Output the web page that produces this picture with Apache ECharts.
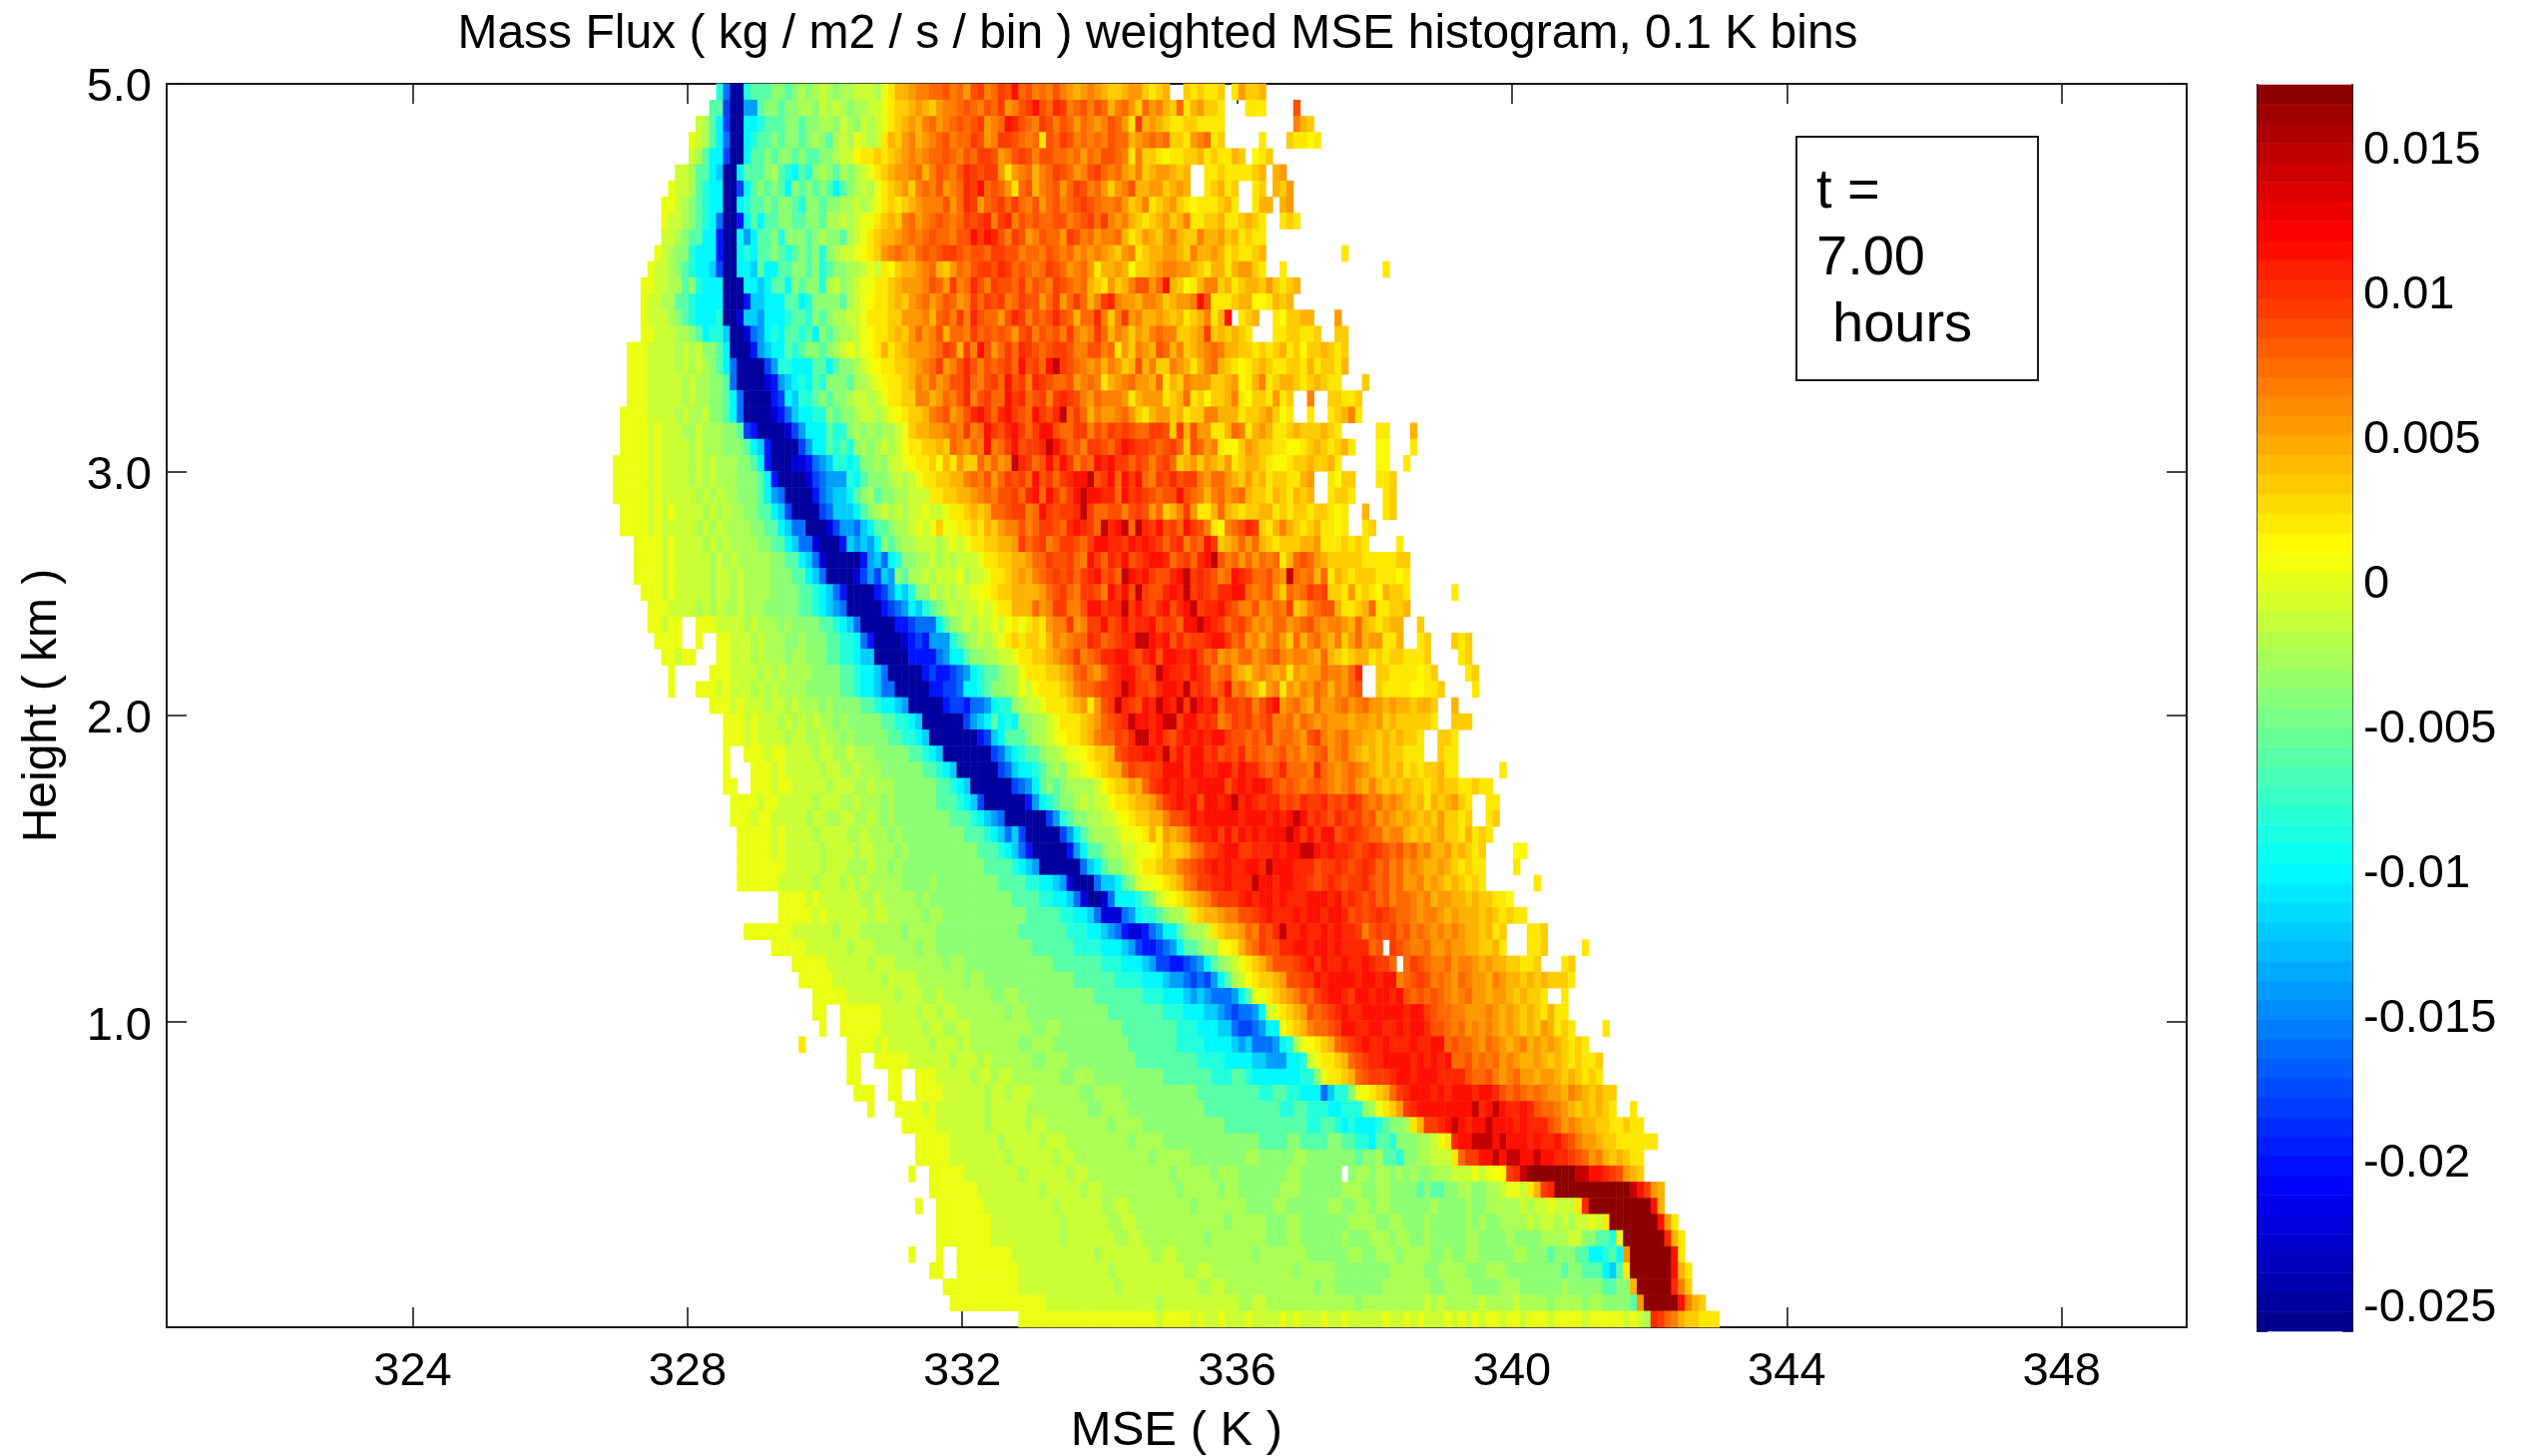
<!DOCTYPE html>
<html><head><meta charset="utf-8">
<style>html,body{margin:0;padding:0;background:#fff}#c{width:2531px;height:1459px}</style>
<script src="https://cdn.jsdelivr.net/npm/echarts@6/dist/echarts.min.js"></script>
</head><body><div id="c"></div>
<script>
const xTicks = [324,328,332,336,340,344,348];
const heightTickRows = [18.9,37.9,53,77];
const heightTickLabels = ["1.0","2.0","3.0","5.0"];
const colorTicks = [0.015,0.01,0.005,0,-0.005,-0.01,-0.015,-0.02,-0.025];
const binCount = 294;
const rowCount = 77;
const xMin = 320.42, xMax = 349.82;
const cMin = -0.02597, cMax = 0.0171;
// one letter = estimated flux of one 0.1 K bin
const levelValues = {a:-0.025,b:-0.0225,c:-0.02,d:-0.018,e:-0.016,f:-0.014,g:-0.012,h:-0.0102,i:-0.0084,j:-0.0062,k:-0.0039,l:-0.0025,m:-0.0012,n:0.0002,o:0.0006,p:0.0011,q:0.002,r:0.0032,s:0.0043,t:0.0054,u:0.0065,v:0.0075,w:0.0085,x:0.0094,y:0.0103,z:0.0113,A:0.0145,B:0.0168};
// per row, top to bottom: start bin, letters, start bin, letters ...
const rowSegments = [
[80,"ie",82,"aaijjjkkjklklmlkllmmml",104,"nqsstuuvvwuvtwxuvxwzvwuvuwutstutsrsstss",138,"rsttrqrs",148,"rqrqqr",155,"qtrrs"],
[79,"jj",81,"daaffjkkjkkllkmlmlkllmm",104,"nqrrstsrtuuvwvuwvxtuwxzwvyxuvwuwvsuv",140,"trvtusrvqstrrq",157,"qqq",164,"w"],
[77,"mljh",81,"daahhijjjkkjkkllkmlkml",103,"mnqrstsuvtuvwvwxtuvzywvuxwuwvtvut",136,"uwvtqxstsrqqrrqqqq",164,"usr"],
[76,"nmlj",80,"heaahijjkjkkjklkjlmlnmlm",104,"qsrtustuvwuvvxwtuxxwvuvqwvxwuvuv",136,"uwvvstuvuvrrqtuvqr",159,"q",163,"rqqpq"],
[76,"mljh",80,"hdaahjjkjkkjkjjkklmmpqq",103,"rqrstutuvvwvuwvxxwtuwxwuwwvvuvtvuw",137,"wvuqurrqpqqrrsqrqqsr",158,"pqr"],
[74,"mmljjh",80,"gaahjjjkljihjiklkjlklm",102,"nqrsttuvsuwvuwyxwxxtqtuvsuvxwvtuwxv",137,"uvtsursttsrs",151,"qqrqqqqrs",161,"st"],
[73,"nmmljihh",81,"aadhjkjkjhkjkjkjhjklml",103,"nqrstruvuwtuvyxzvwvtqvwsuvwtvxwuvt",137,"rtuwssttrsts",151,"qrsqr",158,"qr",161,"srt"],
[72,"nnmlkjihh",81,"aahijjkjkkjikkjkkllml",102,"mnqrqrstuuuwtvyxtvwxvxvuwtvwuvwxwvus",137,"uvtrsuqrstrqpqqqrsq",158,"qss",162,"st"],
[72,"nmmlkjih",80,"eaachjhjjkkjjkkjllmlmnn",103,"qrsruvtuvwvuvxwxyuxyuwvwvvwwuvwxvx",137,"utusrqrstrsuqqrrsqqrsrq",162,"qrq"],
[72,"mmlkjjhh",80,"caahfhjjkikkkjklkkjlmn",102,"qrsstuvuvwvvuwwzxzywuxwtuwvvtxwuvtuv",137,"uvsqrtsrtusrrusstrsqrqq"],
[71,"nmlkkihhh",80,"caahihjjkjijkjkiklmmnp",102,"qrtuvutvwvwxxwvwwvxxwwuvvuwvuvtuv",134,"tutsrtuqrssttsrusstsqrqqrs",171,"q"],
[70,"nmmlkjihhg",80,"daahhgjhhjjkkjkijkkllmn",103,"mqprsstuvsrtvuwxxwyxvwvuvxwvtuvu",134,"tqsstsprrstuuttsrqssqsttrq",162,"q",177,"q"],
[69,"nnmmlljkih",79,"hhaaahhghjjhkjkkilmkl",100,"mnnq",104,"qrstttuwvtxuvywuxwwvxuwvuxwv",132,"uvsrqtrsuwwtvzsrpqsuursqrssrtrqrs"],
[69,"nmmlljjih",78,"hhhaaacgghhhjjhikkkkj",99,"lmnpqq",104,"qrsrtuvtuwvtuxvxwxuvxwwtvxtv",132,"xvsuxyuttsuutrsttuzwqqqrssppqsrs"],
[69,"nmmmlkjih",78,"hhiaabggfhhhijjikjkl",98,"lmmnq",103,"qqrrtttusvwuxuywvvtwyxuwvwv",129,"ywvsvvyuruxtusstsrsqrsuqsz",156,"qrs",161,"qprrss",170,"t"],
[69,"nnmmmllkj",78,"hiig",82,"aabefhihjjijhkjkl",99,"lmnpq",104,"qrsrtvtuwsvvuxvwvwvtwxuwvwu",131,"xutuxvsutrtsuvuurrstxrsrsrq",161,"qqrrqqr",170,"rr"],
[67,"nnnmmmmlmlm",78,"kkjh",82,"aaacfghhjijkkjkl",98,"mnmnp",103,"qsqrstttuvxwsxuzwtvxvyxwvwxw",129,"xxwuuwwuvqtrutswvsurstuvussrrqrqrsqrprrsrqr"],
[67,"nnnmmmmlmlml",79,"kjhe",83,"aaaadfiihhhjjhjkkl",101,"mnpq",105,"qrrstuvxtuwywuwvwxvzwxvzAxwv",133,"utusutrswsurrutsqsuvsrqpqrsrqqrrqsqrrqs"],
[67,"nnnmmmmmlmll",79,"kkje",83,"aaaabcfghihjikkkjl",101,"lmnp",105,"qqrsutvtuwwyvuwxvzwxuyxwv",130,"vwtuvuqstuvttsvqsrutttrrstpqsuqrssrqrsrqq",174,"r"],
[67,"nnnmmmmmlmllk",80,"kjhe",84,"aaaacdhgiijkjkkl",100,"mmlmnq",106,"qrruustvuwyuwxvvzxyvwxuxyx",131,"xwutvuuutqstttqrsvqrprrsuqprrqtqr",166,"u",169,"rrqqr"],
[66,"nnnnmmmmlmllmk",80,"kjhe",84,"aaaabceghhiikjkkl",101,"mmlmnp",107,"qrrsuvwtuwyzxvyzxwvzxwyAvx",132,"xvsuttuvtrqsttrsqrruusssqrrstrpq",166,"q",169,"qrsuq"],
[66,"nnnnmnmmmllmlllkk",83,"jdc",86,"aaaabdfhhhjiiklkl",103,"kllmnq",108,"rssttuvuxuvzxwyzxvxzzwv",131,"vxxuwvxwxwvvxxwrxswttqqsvuqstsqqrsrrrsrq",176,"qq",181,"s"],
[66,"nnnnmnmmmmlmlllkkk",84,"jhg",87,"caaaadfhhjijikl",102,"klmlmoq",109,"qrrsrvutvuzuvxzwxxyA",129,"zxvwuxxwvxzyxxwvwxvrwvtuqpprtsrrqqppqrsrqrsq",176,"pp",181,"q"],
[65,"nnnnnmnmmmmlmlmlllkkj",86,"hc",88,"aaabbcefgiihikkl",104,"kmmnpq",110,"qrpsqtrrvtvtuAyxvwzwz",131,"xuwvzyzxxvxwuwxvrstrtsrtqrssrqppqrrsrrsq",176,"pp",180,"q"],
[65,"nnnnnmnmmmmlmlmlllkkkjhc",89,"aaaabdefffihjkl",103,"kklmlmn",109,"nqqrrssuvuwtvxwxvzwxvxyzzAwxzvzwxuw",140,"xzvuxwywxxutvvtsrtrsqrrqqst",169,"qprr",176,"qqr"],
[65,"nnnnnmnmmmmmlmlmllkkkjhfe",90,"aaaacefgghjkl",103,"jkkllmmmn",111,"qqrrsstuvuwwxvyzvzxvxzAzzyyvzx",139,"zxyxwvwwzwvusuvtuvsrrqsrqsrs",169,"qrrq",177,"qr"],
[66,"nnnnmnmnmmmmlmlmllkkjjhgd",91,"aaaadeggghjklm",105,"lmlmmnmmn",114,"qqrsrsvvwxxuvzxwxxyAxvvww",139,"uwxwtvrsuxtqqsvsrqrrssqrqrrqrrqpq",174,"s",177,"qr"],
[66,"nnnnmnmmmmmlmlmllllkkjjhge",92,"eaaabdffeghjjkl",107,"lmnmnrn",114,"nqqrqsrtuuwuvxxw",130,"vyzyxvAyzAvAyxzwxv",148,"zxwuqpuvwyxrqsusrqrsqqpq",174,"qr"],
[68,"nnnnmnmmmmlmlmllllkkjjhgee",94,"baaacgfgfhkjkl",108,"lmmmlmnmn",117,"qqrrsstxvwxuvxxwvxzzyyxzyzyxv",146,"xyuwvzxrstvtvsrqrrrsstqqqrqrq",179,"q"],
[68,"nnnnmnmmmmmlmlmlllllkkjjhge",95,"baaaaacfgehikk",109,"llmlmlmmmn",119,"qqrrsstvvxwwxvuzxvyxzwxyzz",145,"yvwxvyzAwuvtvtvuvqsvwvtsrrrrrqqqqqrr"],
[68,"nnnnmnmmmmmlmmlmllllkkkjjhge",96,"aaaabdfdgfkjll",110,"mlmmmnlmmn",120,"qqrstsuvwxwxvxyzwxvAzyzxw",145,"wyzAxyxwuvzyxvvwutAvuvsvqsrqrrrqqqpq"],
[69,"nnnmnmmmmmlmmlmllllkkkkjjihge",98,"caaaacdfhgikk",111,"mlmlmm",117,"nnpq",120,"qrrsssstvwxvuxxwuzxzwAxww",145,"yzyAxyxwyyzzvuvwtrvuvxwxrrqtqrqpsrrq",187,"q"],
[70,"nnnmmmmlmlmllmlllkkkkkjjihgfe",99,"aaaaacdefhgijk",113,"lmlmmnmn",121,"qqsssvtuxxuuwzzxyyAxzxwy",145,"zwyzAxyyzxwuuwtuvuxrsuvwwsqqrsvqqrrs"],
[70,"nnmnn",77,"nnnmmmmlmlllklkkkkjjihge",101,"aaaaaccdeeehjk",115,"lmlmmnmo",123,"qnqrqtuuxtuxxzwxzxyyzwxxv",148,"zzAzyxvwxvtutvvtuvwutuutsvsrqrss",182,"r"],
[71,"nnnn",77,"n",80,"nnmmmlmlllkklkkkjjiihe",102,"caaaabcdcfffijk",117,"lmlmnqr",124,"qrrqsutuvvyxvwxyyAAzyzw",147,"ywxxyzzxvwtusuvtrvsuvtsurtvsttqqs",182,"qr",187,"rqr"],
[72,"nnmnn",80,"nnmmmlmlllkllkkkjjiihg",102,"gaaaaaccccefhhjk",118,"kllmmnq",125,"qrrstuvxuvwyyzzxwyzwzzyyz",150,"xvwtutvvtuvwutuutsvsrqrssqrqrrqqqr",188,"qr"],
[73,"n",79,"nnnmmmmlmlmllllkkkkjjihhge",105,"aaaaacdccdefhijj",121,"kllnqq",127,"qrrstvwutvxyzzxwxAzyyxzyx",152,"uvwtsrtutstqtsttvuutvy",176,"rrqqqqpqr",189,"qr"],
[73,"n",77,"nnnmnmmmlmlmllllkkkkkjjihhge",105,"eaaaaaccddehhijk",121,"kllnmpq",128,"qqrsuvvwxxyAzxxwyzzyAxyx",152,"vwzuvtsqtuqtsutvusutvw",176,"rqqqqppqqr",190,"q"],
[79,"nnnmnmmmlmmlmlllklkkkkjjihhgf",108,"aaaaacddceefhiik",124,"lmmnq",129,"qqrstqtwxAyxwzyAzyAxAzyzvx",155,"xwxuwyztuvtsvttuvtuvttstssrssr",187,"s"],
[81,"nnnmnmmmlmlmlmllklkkkkkjjiihg",110,"aaaaaadfghjhihkk",126,"llmnq",131,"qqrstvwxyAzzyzAAxzzxyxuv",155,"xwxvwxuuvtvututttsttstrsrrrrrq",187,"rrr"],
[81,"nnnmnmmmmlmmllmllklkkkkkjjiihg",111,"aaaaaaacdghjjjkl",127,"lmnp",131,"qqrsuvvxwyAAyzxwyzyzyzzxw",156,"wvwvxuvvutwxutuvttssrsrsrrq",185,"rrq"],
[81,"n",84,"nnnmnnmmmmlmmllmlllkkkkkjjihg",113,"aaaaaaadeghijjkl",129,"lmnn",133,"pqrrswxyyzzyAxzxzzxywxw",156,"yvwvuvwuvtuvwtuvtsrsrsrrqqq",185,"rqq"],
[81,"n",85,"nnnmnmmmmmlmmllmlllkkkkkkjjihg",115,"aaaaaadeghhijk",129,"lkmmn",134,"pqrssvxwwxxzzzxzzyyzzxzyy",159,"wvwyvvvuyvutuvutsrsrsqrqrrsqq",194,"q"],
[81,"nn",85,"nnnmnnmmmmmlmmmllmlllkkkkkkjjihg",117,"aaaaaadefhjkjkl",132,"lllmp",137,"qrrtsvxyzyzyyzzzzwyzyzzy",161,"wvwvuvwvutuvtsusrsrsrrqrsrrqqrqq"],
[82,"nnnnmnnmmmmmlmmmllmlllklkkkkkkjjjihg",118,"daaaaaacfhijkkl",133,"mlmmp",138,"qqrsstvxyzyzwzzyzAyzyxyyw",163,"xwyxxywxwyxvuvtutsrsqsrstrq",192,"qq"],
[82,"nnnmnnmmmmmlmmllmmllmlklkkkkkkkkjjjihgf",121,"eaaaaaadfijkkl",135,"lmmn",139,"pqrrssuwwxzyzzzzzyzzzyzyzA",165,"zxyxwyxwxvwtutstsrsrtrrqr",192,"qr"],
[83,"nnnnnmnmmmmlmmmmllmlllklkkkkkkkkkjjjihge",123,"gdaaaaadfhjkl",136,"llmnn",141,"pqsqtstuxyyzxzxzyzyzzzA",164,"zxzxzzwxyxwvvtuusrsrstrrqsqrq"],
[83,"nnnnnmnmmmmmlmmmmlmmlllklkkkkkkkkkkjjjihge",125,"caaaaacfhjjkl",138,"lmmnn",143,"pqsrrsuvxxyzzxxyyyzyzzAA",167,"zyzyyxwxyxwvwuvtusstrsrqr",196,"pp"],
[83,"nnnnnnnmmmmmlmmmlllmllklkkkkkkkkkkkkjjjjihgf",127,"aaaaaaeghjkk",139,"lmnq",143,"qrssuvwxyzyzyyzzyAzzzyyyw",168,"xxyxwxyxvwuvtutsstsrqrqq",196,"q"],
[83,"nnnnnnmmmmmlmmmlmlmlllllkkkklkkkkkkkkkjjjjiihhgf",131,"baaaegghj",140,"kmnn",144,"pqrsuvxxyyzyyyAzzyzzyy",166,"xwxyxwxxywvwuvttustsrsrqrq",199,"q"],
[89,"nnnnmnmmmmmmllmlllllklkkkkkkkkkkkkjjjjiihhge",133,"baabehhhi",142,"jkmn",146,"pqrstuwxxxyzyzzyzyyyzzzy",170,"zxyxwxvwuvvutusttssrsrrqqp"],
[89,"nnnnnmnmmmmmmlmmlllllkllkkkkkkkkkkkkjjjjjiihhge",136,"bbbefhii",144,"jkllmn",149,"qrsstuuwwxyzyyyzyzzyzzyw",173,"xwxyxwvvutuutstsssrsrqrqq"],
[84,"nnn",87,"nnnnmmmmmmlmmmllllllkllllkkkkkkkkkkkkjjjjjjjiiihhgfe",139,"cbbcefhhj",148,"kllmn",152,"qrsstvuxwyAyyzyyzyzyyxuw",176,"xwxvwuvutututssrsqr",198,"qqr"],
[88,"nnnnnmmmmmmlmmmllllllkllkkkkkkkkkkkkkkjjjjjjiiiihhhgf",141,"dccdefhjj",150,"kllmn",153,"npqsuvxwwyyzzyzzyzyyyyvw",178,"xwvuuvttuttssrrsq",198,"qqr",206,"q"],
[91,"nnnnnmmmmmmlmmmlllllllkllkkkkkkkkkkkkkjjjjjjjiiihhhgf",144,"ddccdefhjkl",155,"mnqrsuwwwxyzxzyyzyyzyxxv",180,"vxwvuuvtuutstssrrqqr",203,"qr"],
[92,"nnnnnmmmmmmmlmmmmlllllllkllkkkkkkkkkkkkkjjjjjjiiiihhhgf",147,"fededfhjkl",155,"lmn",157,"pqrrstwwxxzyzzzzyzzyzzuv",181,"wxwuvutvuttsutssrsrsrrrq"],
[94,"nnnnnmmmmmmmlmmmllmlllllllkkllkkkkkkkkkkkjjjjjjjiiihhhgf",150,"gfeeefhjkl",158,"nnqrstuwvxyzzyxzzyzzyzwv",182,"wvwvutuvttsttsrsrrq",203,"q"],
[94,"nn",98,"nnnnnnmmmmmlmmlmmlllllllkllkkkkkkkkkkkkjjjjjjjjiiihhhg",152,"gfedeefhjl",160,"mnqrstwvwxyzyyzzzzzzyzzx",184,"wvvuutttutstsrsrqsqq"],
[95,"n",98,"nnnnnnmmmmmmlmmllmmlllllllllkkllkkkkkkkkkjjjjjjjjiiihhhgg",155,"eddefhhjm",162,"nqrsuvvwxzzyyzzyyzyzzyw",185,"wvuvtututstsrsrtsqrq",209,"q"],
[92,"q",99,"nnnnmnmmmmmmlmmmlmlllllllkklllkkkkkkkkkkkjjjjjjjiiiihhhhgf",157,"geeefhiikl",164,"lnpqrsvwxyzyyzyyyzyyzzv",187,"wvvutvutstuststsrqrq"],
[99,"nn",103,"nnnnnmmmmmmlmmmlmllllllkklllkkkkkkkkkkjjjjjjjjjiiiihhhhgg",160,"fffhhikl",166,"mnqqrsvwxyyzzzzyzyzyzvv",189,"wuvuvtutsstsrsrqrqqr"],
[99,"nn",105,"nn",109,"nnnmmmmmlmmlmmlllllllkklllkkkkkkkkkkjjjjjjjiiijjihhhh",162,"hhhiikllm",168,"nqqrsvwxxxyzzyzzzyyyywv",191,"vwutuvttsttsrsrqrq"],
[100,"nnn",105,"nn",109,"nnnnmmmmmmlmmlmmmlllllllkkllllkkkkkkkkkkkjjjjjjjjjiijjiihhh",168,"egiikl",173,"noqrsvxyzzzyzyzzzyzzywv",196,"wvuvuttsutsrsrr"],
[102,"n",106,"nnnnmnmmmmmmmlmmmmmlllllllllkkllllkkkkkkkkkkkjjjjjjjjjjjiijjiiih",170,"hiiikl",176,"nqrtxyzzzzzzzzAyzAzyyzyxv",199,"wvvutsrsrsrq",213,"q"],
[107,"nnnnnmmmmmmmlmmmmmlmmlllllllllkllllkkkkkkkkkkkkjjjjjjjjjjjjiijjihi",173,"hhhijkkl",181,"qsxxyzAzyzzAzzzyzyyywvtutssrrqqrqq"],
[109,"nnnnnmmmmmmmlmmmmmlmmmlllllllllkllllkkkkkkkkkkkkkkjjjjkkjjjjkkjji",174,"ihjjikkklll",184,"mnqyzzAAAzAzzzyzyyzxwuttsrrqqqqqq"],
[109,"nnnnnmmmmmmmmlmmmmmmlmmlllllllllllklllllkkkkkkkkllkkkkkllkkkkk",171,"kkjkkljjikkllmm",186,"mqvxxzzAzAAzzAzzyyxwvtusrsrqq"],
[108,"n",111,"nnnnnmmmmmmmmlmmmmmmlmmllllllllllllklllllklllkkkkkkkllkkkkkk",172,"kllkllklklkklllmmmnmn",193,"opxyABBBBBBBAAzzyxwtsr"],
[111,"nnnnnnnmmmmmmmmmlmmmmmlmmlllllllllllklllllkllkkkkkklllkkkkkk",171,"lllkkllkkkkjkjjkkllkkllmnnm",198,"qsxyBBBBBBBBBBBAzxts"],
[109,"n",112,"nnnnnnnmmmmmmmmmmlmmmmmmllmmlllllllllklllllllkkkkllkkkkkkllkk",173,"llkllkkkkkklkkkklkklllllmlmmnmmmn",205,"qyBBBBBBBBBzs"],
[112,"nnnnnnnnmmmmmmmmmmlmmmmmmllmmlllllllllllllklllllkkkllkkkkkkk",172,"llllkkllkkklkkkkklklkkllllmlmmlmlmmnmn",209,"qBBBBBBBztq"],
[112,"nnnnnnnnmmmmmmmmmmlmmmmmmmllmmlllllllllkllllllllkkkllkkkkkklkkk",175,"lllkllkklkkkkkllkkkklkkkkllllmm",206,"kkjjin",212,"BBBBBBysq"],
[108,"n",112,"n",115,"nnnnnnnnmmmmmmmmmmmmlmmmmmmmllmmlllllllllllklllllllkkkkkkllkkk",176,"lllkllllkklkkllkkkkkllkkkjkkkjjhhi",210,"jhm",212,"tBBBBBBzq"],
[111,"nn",115,"nnnnnnnnnmmmmmmmmmmmmmlmmmmmmmmmmllmmllllllllllllklllllkkkkkkkk",178,"lllllkkllllkkklllkkkkkkkkjkkjjjhgj",212,"qBBBBBBzsq"],
[113,"nnnnnnnnnnnmmmmmmmmmmmmmmlmmmmmmmmmmmllmmlllllllllllllkllkkkkkkk",177,"lllllllkkllllkkkklllkkkkkklkkkkkjjkk",213,"sBBBBByur"],
[114,"nnnnnnnnnnnnnnmmmmmmmmmmmmmmmmlmmmmmmmmmmmllmmlllllllllllllkllllll",180,"lllmlmlllllmllllmllllkllllkllkkkkj",214,"tBBBBBzusr"],
[124,"nnnnnnnnnnnnnnnnnnnnmnnnnmnmmnmmmnmmmmnmnmmmnmmnmmmmmnmmnmnmmm",186,"nmnmnmnnmnnmnnnmnnnnmnnnnnmnml",216,"yxvusrrqqq"]
];

const heatData = [];
rowSegments.forEach((segs, r) => {
  const cells = {};
  for (let s = 0; s < segs.length; s += 2) {
    for (let k = 0; k < segs[s + 1].length; k++) cells[segs[s] + k] = levelValues[segs[s + 1][k]];
  }
  Object.keys(cells).forEach(c => heatData.push([+c, rowCount - 1 - r, cells[c]]));
});

const binLabels = Array.from({length: binCount}, (_, i) => (xMin + 0.1 * i).toFixed(2));
const rowLabels = Array.from({length: rowCount}, (_, i) => String(i));
const barLevels = Array.from({length: 64}, (_, i) => cMin + (i + 0.5) * (cMax - cMin) / 64);
const jet = Array.from({length: 64}, (_, i) => {
  const x = (i + 0.5) / 64;
  const f = v => Math.round(255 * Math.max(0, Math.min(1, v)));
  return `rgb(${f(1.5 - Math.abs(4 * x - 3))},${f(1.5 - Math.abs(4 * x - 2))},${f(1.5 - Math.abs(4 * x - 1))})`;
});

const FONT = "'Liberation Sans', Arial, sans-serif";
const lineStyle = {color: '#1a1a1a', width: 2};
const tickStyle = {color: '#1a1a1a', width: 1.6};
const labelBase = {color: '#000', fontFamily: FONT, fontSize: 47};

const chart = echarts.init(document.getElementById('c'));
chart.setOption({
  animation: false,
  backgroundColor: '#fff',
  title: {
    text: 'Mass Flux ( kg / m2 / s / bin ) weighted MSE histogram, 0.1 K bins',
    left: 1155, top: 6, textAlign: 'center',
    textStyle: {fontFamily: FONT, fontSize: 48, fontWeight: 'normal', color: '#000'}
  },
  grid: [
    {left: 167, top: 84, width: 2024, height: 1246, show: false, outerBoundsMode: 'none'},
    {left: 2262, top: 85, width: 95, height: 1249, show: false, outerBoundsMode: 'none'}
  ],
  xAxis: [
    {gridIndex: 0, type: 'category', data: binLabels, show: false},
    {gridIndex: 0, type: 'value', position: 'bottom', min: xMin, max: xMax, splitLine: {show: false},
      name: 'MSE ( K )', nameLocation: 'middle', nameGap: 80,
      nameTextStyle: {color: '#000', fontFamily: FONT, fontSize: 49},
      axisLine: {show: true, lineStyle},
      axisTick: {show: true, inside: true, length: 20, lineStyle: tickStyle, customValues: xTicks},
      axisLabel: {...labelBase, margin: 22, customValues: xTicks, formatter: v => String(v)}},
    {gridIndex: 0, type: 'value', position: 'top', min: xMin, max: xMax, splitLine: {show: false},
      axisLine: {show: true, lineStyle},
      axisTick: {show: true, inside: true, length: 20, lineStyle: tickStyle, customValues: xTicks},
      axisLabel: {show: false}},
    {gridIndex: 1, type: 'category', data: ['level'], show: false}
  ],
  yAxis: [
    {gridIndex: 0, type: 'category', data: rowLabels, show: false},
    {gridIndex: 0, type: 'value', position: 'left', min: 0, max: rowCount, splitLine: {show: false},
      name: 'Height ( km )', nameLocation: 'middle', nameGap: 100, nameRotate: 90,
      nameTextStyle: {color: '#000', fontFamily: FONT, fontSize: 48},
      axisLine: {show: true, lineStyle},
      axisTick: {show: true, inside: true, length: 20, lineStyle: tickStyle, customValues: heightTickRows},
      axisLabel: {...labelBase, margin: 15, verticalAlign: 'top', padding: [-19, 0, 0, 0], customValues: heightTickRows,
        formatter: v => heightTickLabels[heightTickRows.indexOf(v)] || ''}},
    {gridIndex: 0, type: 'value', position: 'right', min: 0, max: rowCount, splitLine: {show: false},
      axisLine: {show: true, lineStyle},
      axisTick: {show: true, inside: true, length: 20, lineStyle: tickStyle, customValues: heightTickRows},
      axisLabel: {show: false}},
    {gridIndex: 1, type: 'category', data: barLevels.map(v => v.toFixed(5)), show: false},
    {gridIndex: 1, type: 'value', position: 'left', min: cMin, max: cMax, splitLine: {show: false},
      axisLine: {show: true, lineStyle},
      axisTick: {show: true, inside: true, length: 10, lineStyle: tickStyle, customValues: colorTicks.concat([cMin])},
      axisLabel: {show: false}},
    {gridIndex: 1, type: 'value', position: 'right', min: cMin, max: cMax, splitLine: {show: false},
      axisLine: {show: true, lineStyle},
      axisTick: {show: true, inside: true, length: 10, lineStyle: tickStyle, customValues: colorTicks.concat([cMin])},
      axisLabel: {...labelBase, margin: 11, verticalAlign: 'top', padding: [-18, 0, 0, 0], customValues: colorTicks, formatter: v => String(v)}}
  ],
  visualMap: {show: false, type: 'continuous', min: cMin, max: cMax, dimension: 2, seriesIndex: [0, 1], inRange: {color: jet}},
  series: [
    {type: 'heatmap', xAxisIndex: 0, yAxisIndex: 0, data: heatData, progressive: 0, emphasis: {disabled: true}},
    {type: 'heatmap', xAxisIndex: 3, yAxisIndex: 3, data: barLevels.map((v, i) => [0, i, v]), progressive: 0, emphasis: {disabled: true}}
  ],
  graphic: [
    {type: 'rect', shape: {x: 1800, y: 137, width: 242, height: 244}, style: {fill: '#fff', stroke: '#1a1a1a', lineWidth: 2}, z: 20},
    {type: 'text', x: 1820, y: 165, z: 21, style: {text: 't =', font: `56px ${FONT}`, fill: '#000'}},
    {type: 'text', x: 1820, y: 232, z: 21, style: {text: '7.00', font: `56px ${FONT}`, fill: '#000'}},
    {type: 'text', x: 1836, y: 299, z: 21, style: {text: 'hours', font: `56px ${FONT}`, fill: '#000'}}
  ]
});
</script></body></html>
